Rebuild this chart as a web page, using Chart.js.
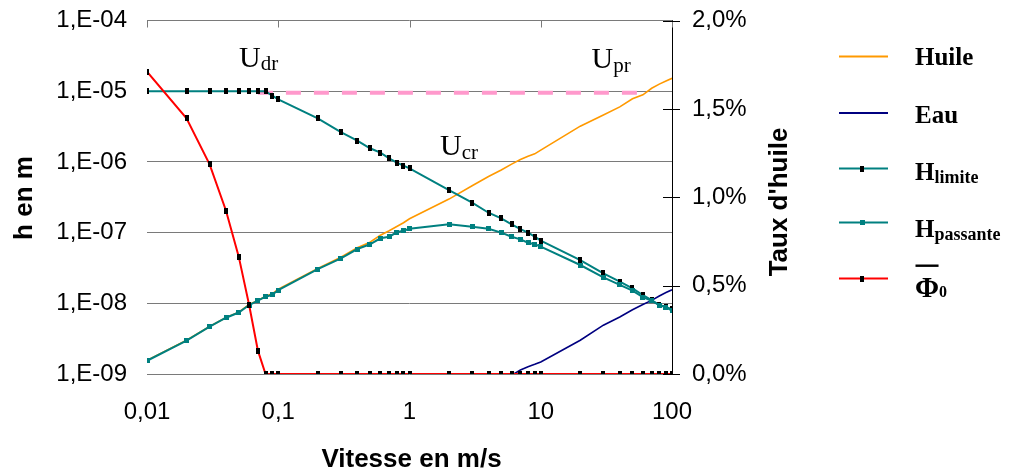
<!DOCTYPE html>
<html>
<head>
<meta charset="utf-8">
<script src="https://cdn.jsdelivr.net/npm/chart.js@4.4.1/dist/chart.umd.min.js"></script>
<style>
  html, body { margin: 0; padding: 0; background: #ffffff; }
  #wrap { width: 1015px; height: 472px; position: relative; }
</style>
</head>
<body>
<div id="wrap"><canvas id="chart" width="1015" height="472"></canvas></div>
<script>
// Speeds (m/s) shared by all series
const speeds = [0.01, 0.02, 0.03, 0.04, 0.05, 0.06, 0.07, 0.08, 0.09, 0.1,
  0.2, 0.3, 0.4, 0.5, 0.6, 0.7, 0.8, 0.9, 1,
  2, 3, 4, 5, 6, 7, 8, 9, 10,
  20, 30, 40, 50, 60, 70, 80, 90, 100];

// Film thickness with pure oil (m)
const huile = [1.56e-9, 3.0e-9, 4.7e-9, 6.3e-9, 7.5e-9, 9.6e-9, 1.1e-8, 1.26e-8, 1.36e-8, 1.58e-8,
  3.1e-8, 4.5e-8, 6.1e-8, 7.3e-8, 9.2e-8, 1.06e-7, 1.22e-7, 1.38e-7, 1.57e-7,
  2.98e-7, 4.6e-7, 6.2e-7, 7.7e-7, 9.3e-7, 1.08e-6, 1.2e-6, 1.3e-6, 1.47e-6,
  3.2e-6, 4.6e-6, 6.0e-6, 7.8e-6, 8.9e-6, 1.1e-5, 1.26e-5, 1.39e-5, 1.52e-5];

// Film thickness with pure water (m)
const eau = [null, null, null, null, null, null, null, null, null, null,
  null, null, null, null, null, null, null, null, null,
  null, null, null, null, 9.6e-10, 1.14e-9, 1.27e-9, 1.37e-9, 1.48e-9,
  3.0e-9, 4.9e-9, 6.4e-9, 8.1e-9, 9.6e-9, 1.1e-8, 1.27e-8, 1.42e-8, 1.55e-8];

// Limit thickness (m)
const hLimite = [1e-5, 1e-5, 1e-5, 1e-5, 1e-5, 1e-5, 1e-5, 1e-5, 8.63e-6, 7.67e-6,
  4.14e-6, 2.63e-6, 2.0e-6, 1.56e-6, 1.35e-6, 1.12e-6, 9.75e-7, 8.84e-7, 8.12e-7,
  4.0e-7, 2.65e-7, 1.91e-7, 1.59e-7, 1.31e-7, 1.12e-7, 1.0e-7, 8.75e-8, 7.68e-8,
  4.09e-8, 2.65e-8, 2.02e-8, 1.63e-8, 1.31e-8, 1.11e-8, 9.46e-9, 8.9e-9, 8.2e-9];

// Passing thickness (m)
const hPassante = [1.54e-9, 2.96e-9, 4.67e-9, 6.25e-9, 7.4e-9, 9.46e-9, 1.09e-8, 1.24e-8, 1.32e-8, 1.54e-8,
  3.05e-8, 4.32e-8, 5.86e-8, 6.84e-8, 8.3e-8, 8.75e-8, 1.01e-7, 1.06e-7, 1.135e-7,
  1.31e-7, 1.21e-7, 1.135e-7, 1.0e-7, 8.75e-8, 8.03e-8, 7.19e-8, 6.84e-8, 6.32e-8,
  3.48e-8, 2.33e-8, 1.82e-8, 1.51e-8, 1.22e-8, 1.08e-8, 9.46e-9, 8.78e-9, 7.85e-9];

// Oil ratio Phi0 (%)
const phi0 = [1.71, 1.447, 1.186, 0.924, 0.664, 0.39, 0.132, 0, 0, 0,
  0, 0, 0, 0, 0, 0, 0, 0, 0,
  0, 0, 0, 0, 0, 0, 0, 0, 0,
  0, 0, 0, 0, 0, 0, 0, 0, 0];

// Dashed threshold between U_dr and U_pr
const seuilSpeeds = [0.07, 63];
const seuilH = [9.5e-6, 9.5e-6];

// Axis ticks and their labels
const speedTicks = [0.01, 0.1, 1, 10, 100];
const speedTickLabels = ['0,01', '0,1', '1', '10', '100'];
const hTicks = [1e-9, 1e-8, 1e-7, 1e-6, 1e-5, 1e-4];
const hTickLabels = ['1,E-09', '1,E-08', '1,E-07', '1,E-06', '1,E-05', '1,E-04'];
const pctTicks = [0, 0.5, 1, 1.5, 2];
const pctTickLabels = ['0,0%', '0,5%', '1,0%', '1,5%', '2,0%'];

const pairs = (xs, ys) => xs.map((x, i) => ({ x: x, y: ys[i] }));

function rectMarker(w, h, color) {
  const c = document.createElement('canvas');
  c.width = w; c.height = h;
  const g = c.getContext('2d');
  g.fillStyle = color;
  g.fillRect(0, 0, w, h);
  return c;
}
const blackMark = rectMarker(4, 6, '#000000');
const tealMark = rectMarker(5, 5, '#008080');

const TEAL = '#008080';

const datasets = [
  { label: 'Huile', data: pairs(speeds, huile), yAxisID: 'y', borderColor: '#FF9900', borderWidth: 1.6,
    pointRadius: 0, order: 5 },
  { label: 'Eau', data: pairs(speeds, eau), yAxisID: 'y', borderColor: '#000080', borderWidth: 1.6,
    pointRadius: 0, order: 4 },
  { label: 'H limite', data: pairs(speeds, hLimite), yAxisID: 'y', borderColor: TEAL, borderWidth: 2,
    pointStyle: blackMark, pointRadius: 3, order: 2 },
  { label: 'H passante', data: pairs(speeds, hPassante), yAxisID: 'y', borderColor: TEAL, borderWidth: 2,
    pointStyle: tealMark, pointRadius: 3, order: 1 },
  { label: 'Phi0', data: pairs(speeds, phi0), yAxisID: 'y1', borderColor: '#FF0000', borderWidth: 2,
    pointStyle: blackMark, pointRadius: 3, order: 0 },
  { label: 'seuil', data: pairs(seuilSpeeds, seuilH), yAxisID: 'y', borderColor: '#FF99CC', borderWidth: 4,
    borderDash: [15, 13], pointRadius: 0, order: 3 }
];

const GRID = '#7a7a7a';

// Frame details, titles, legend and speed markers
const decor = {
  id: 'decor',
  beforeDatasetsDraw(chart) {
    const ctx = chart.ctx, a = chart.chartArea;
    const xs = chart.scales.x, y1 = chart.scales.y1;
    ctx.save();
    ctx.lineWidth = 1;
    ctx.strokeStyle = GRID;
    speedTicks.forEach(v => {
      const px = Math.round(xs.getPixelForValue(v)) + 0.5;
      ctx.beginPath();
      ctx.moveTo(px, a.top);
      ctx.lineTo(px, a.top + 7);
      ctx.stroke();
    });
    ctx.strokeStyle = '#000000';
    pctTicks.forEach(p => {
      const py = Math.round(y1.getPixelForValue(p)) + 0.5;
      ctx.beginPath();
      ctx.moveTo(a.right - 9, py);
      ctx.lineTo(a.right + 8, py);
      ctx.stroke();
    });
    ctx.restore();
  },
  afterDraw(chart) {
    const ctx = chart.ctx;
    ctx.save();
    ctx.fillStyle = '#000000';

    // axis titles
    ctx.font = 'bold 26px "Liberation Sans"';
    ctx.textAlign = 'center';
    ctx.textBaseline = 'alphabetic';
    ctx.fillText('Vitesse en m/s', 411.5, 466.5);
    ctx.save();
    ctx.translate(31.5, 198);
    ctx.rotate(-Math.PI / 2);
    ctx.fillText('h en m', 0, 0);
    ctx.restore();
    ctx.save();
    ctx.translate(786.5, 202);
    ctx.rotate(-Math.PI / 2);
    ctx.fillText("Taux d'huile", 0, 0);
    ctx.restore();

    // speed markers U_dr, U_cr, U_pr
    ctx.textAlign = 'left';
    const marks = [
      { sub: 'dr', x: 239, y: 66.5 },
      { sub: 'cr', x: 440, y: 155 },
      { sub: 'pr', x: 591.5, y: 68 }
    ];
    marks.forEach(m => {
      ctx.font = '30px "Liberation Serif"';
      ctx.fillText('U', m.x, m.y);
      const w = ctx.measureText('U').width;
      ctx.font = '21px "Liberation Serif"';
      ctx.fillText(m.sub, m.x + w, m.y + 3.5);
    });

    // legend
    const ds = chart.data.datasets;
    const entries = [
      { i: 0, main: 'Huile', ly: 56.5, by: 65 },
      { i: 1, main: 'Eau', ly: 113, by: 122.5 },
      { i: 2, main: 'H', sub: 'limite', ly: 168.5, by: 180, subDy: 3 },
      { i: 3, main: 'H', sub: 'passante', ly: 222.5, by: 237, subDy: 3 },
      { i: 4, main: '\u03A6', sub: '0', bar: true, ly: 278.5, by: 296.5, size: 29, subSize: 16, subDy: 0.5 }
    ];
    entries.forEach(e => {
      const d = ds[e.i];
      ctx.strokeStyle = d.borderColor;
      ctx.lineWidth = 2;
      ctx.beginPath();
      ctx.moveTo(839, e.ly);
      ctx.lineTo(888, e.ly);
      ctx.stroke();
      if (d.pointStyle && typeof d.pointStyle === 'object') {
        const img = d.pointStyle;
        ctx.drawImage(img, Math.round(862 - img.width / 2), Math.round(e.ly - img.height / 2));
      }
      ctx.fillStyle = '#000000';
      ctx.font = 'bold ' + (e.size || 25) + 'px "Liberation Serif"';
      ctx.fillText(e.main, 915, e.by);
      const w = ctx.measureText(e.main).width;
      if (e.bar) {
        ctx.fillRect(915.5, 264.5, w - 1, 2.4);
      }
      if (e.sub) {
        ctx.font = 'bold ' + (e.subSize || 18) + 'px "Liberation Serif"';
        ctx.fillText(e.sub, 915 + w, e.by + e.subDy);
      }
    });
    ctx.restore();
  }
};

const tickFont = { family: 'Liberation Sans', size: 24 };

// vertical axes: fixed width, no extra label overhang above/below the plot
const fixVertical = w => s => { s.width = w; s.paddingTop = 0; s.paddingBottom = 0; };

new Chart(document.getElementById('chart'), {
  type: 'line',
  data: { datasets: datasets },
  options: {
    responsive: false,
    animation: false,
    devicePixelRatio: 1,
    layout: { padding: { top: 20.5, left: 0, right: 0, bottom: 0 } },
    plugins: { legend: { display: false }, tooltip: { enabled: false } },
    elements: { line: { tension: 0 } },
    scales: {
      x: {
        type: 'logarithmic', position: 'bottom', min: 0.01, max: 100,
        afterBuildTicks: s => { s.ticks = speedTicks.map(v => ({ value: v })); },
        afterFit: s => { s.height = 98; },
        grid: { drawOnChartArea: false, drawTicks: false },
        border: { display: false },
        ticks: { callback: (v, i) => speedTickLabels[i], font: tickFont, color: '#000000',
                 padding: 24, maxRotation: 0, autoSkip: false }
      },
      y: {
        type: 'logarithmic', position: 'left', min: 1e-9, max: 1e-4,
        afterBuildTicks: s => { s.ticks = hTicks.map(v => ({ value: v })); },
        afterFit: fixVertical(147),
        grid: { color: GRID, lineWidth: 1, drawTicks: false },
        border: { display: false },
        ticks: { callback: (v, i) => hTickLabels[i], font: tickFont, color: '#000000', padding: 20, autoSkip: false }
      },
      y1: {
        type: 'linear', position: 'right', min: 0, max: 2,
        afterBuildTicks: s => { s.ticks = pctTicks.map(v => ({ value: v })); },
        afterFit: fixVertical(343),
        grid: { drawOnChartArea: false, drawTicks: false },
        border: { display: true, color: '#000000', width: 1 },
        ticks: { callback: (v, i) => pctTickLabels[i], font: tickFont, color: '#000000', padding: 20, autoSkip: false }
      }
    }
  },
  plugins: [decor]
});
</script>
</body>
</html>
